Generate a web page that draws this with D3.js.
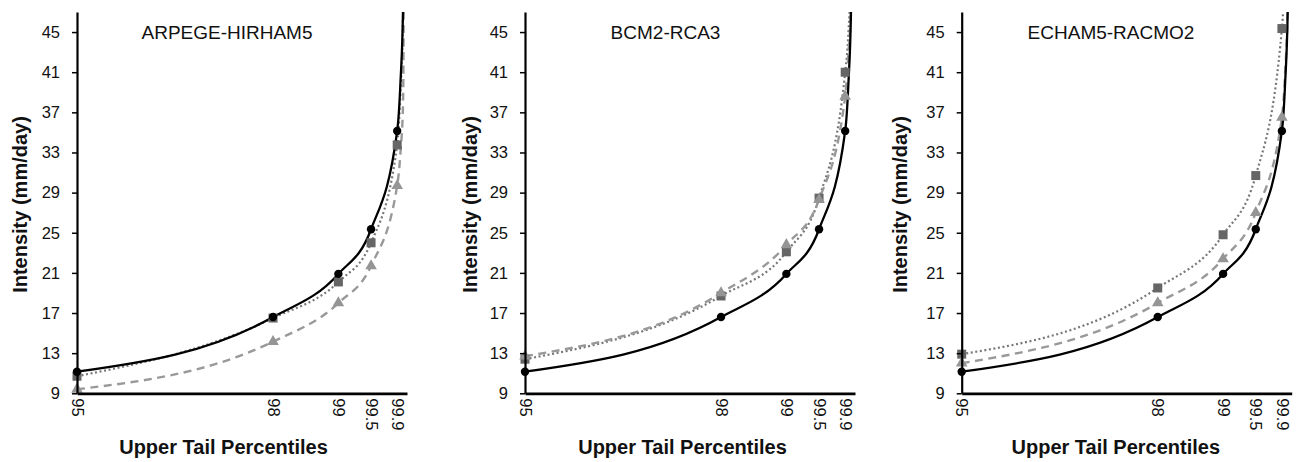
<!DOCTYPE html>
<html><head><meta charset="utf-8">
<script src="https://cdn.jsdelivr.net/npm/d3@7"></script>
<style>
body{margin:0;background:#fff}
svg{display:block}
text{font-family:"Liberation Sans",Arial,Helvetica,sans-serif;fill:#111}
</style>
</head><body>
<svg id="c" width="1296" height="462"></svg>
<script>
// ---------- data ----------
const models = ["ARPEGE-HIRHAM5", "BCM2-RCA3", "ECHAM5-RACMO2"];
const percentiles = [95, 98, 99, 99.5, 99.9];      // marker positions
const tailPercentiles = [99.95, 99.99, 100];       // where the curves shoot up
const xTicks = [95, 98, 99, 99.5, 99.9];
const yTicks = [9, 13, 17, 21, 25, 29, 33, 37, 41, 45];

// observed (black, circles, solid) - same in all panels
const observed     = [11.15, 16.6, 20.9, 25.35, 35.15];
const observedTail = [40, 47.5, 52];

// model series 1 (dark grey squares, dotted)
const squares = [
  [10.7, 16.5, 20.1, 24.0, 33.75],
  [12.4, 18.7, 23.1, 28.45, 41.0],
  [12.9, 19.5, 24.8, 30.7, 45.35]
];
const squaresTail = [
  [39, 47, 52],
  [45, 52, 56],
  [51, 58, 62]
];
// model series 2 (light grey triangles, dashed)
const triangles = [
  [9.4, 14.15, 18.0, 21.7, 29.7],
  [12.7, 19.0, 23.8, 28.3, 38.6],
  [12.0, 18.0, 22.4, 27.0, 36.5]
];
const trianglesTail = [
  [33, 38, 48],
  [43, 48, 52],
  [41, 48, 52]
];

// ---------- layout ----------
const panelLeft = [77, 525, 961.7];
const panelW = 330;
const plotTop = 12, plotBottom = 393.3;
const titleX = [227, 665.5, 1111];
const yTitleX = [26.7, 476.7, 906.7];
const xTitleX = [223.5, 682.5, 1115.8];

const svg = d3.select("#c");

const y = d3.scaleLinear().domain([9, 47]).range([plotBottom, plotTop]);

models.forEach((name, i) => {
  const x0 = panelLeft[i];
  const x = d3.scaleLinear().domain([95, 100.05]).range([x0, x0 + panelW]);
  const g = svg.append("g");

  const clipId = "clip" + i;
  svg.append("clipPath").attr("id", clipId)
    .append("rect").attr("x", x0 - 6).attr("y", plotTop).attr("width", panelW + 12).attr("height", plotBottom - plotTop + 6);

  const mk = (vals, tail) => percentiles.map((p, k) => [p, vals[k]])
      .concat(tailPercentiles.map((p, k) => [p, tail[k]]));

  const line = d3.line().x(d => x(d[0])).y(d => y(d[1])).curve(d3.curveMonotoneX);
  const lines = g.append("g").attr("clip-path", `url(#${clipId})`);

  lines.append("path").attr("d", line(mk(squares[i], squaresTail[i])))
    .attr("fill", "none").attr("stroke", "#777").attr("stroke-width", 2.2)
    .attr("stroke-dasharray", "2,2.6");
  lines.append("path").attr("d", line(mk(triangles[i], trianglesTail[i])))
    .attr("fill", "none").attr("stroke", "#999").attr("stroke-width", 2.4)
    .attr("stroke-dasharray", "8,5.5");
  lines.append("path").attr("d", line(mk(observed, observedTail)))
    .attr("fill", "none").attr("stroke", "#000").attr("stroke-width", 2.3);

  // markers
  g.append("g").selectAll("rect").data(squares[i]).join("rect")
    .attr("x", (d, k) => x(percentiles[k]) - 4.5).attr("y", d => y(d) - 4.5)
    .attr("width", 9).attr("height", 9).attr("fill", "#666");
  const tri = d3.symbol().type(d3.symbolTriangle).size(58);
  g.append("g").selectAll("path").data(triangles[i]).join("path")
    .attr("d", tri).attr("transform", (d, k) => `translate(${x(percentiles[k])},${y(d)})`)
    .attr("fill", "#959595");
  g.append("g").selectAll("circle").data(observed).join("circle")
    .attr("cx", (d, k) => x(percentiles[k])).attr("cy", d => y(d)).attr("r", 4.2)
    .attr("fill", "#000");

  // axes
  const ya = g.append("g").attr("transform", `translate(${x0},0)`)
    .call(d3.axisLeft(y).tickValues(yTicks).tickSize(5).tickSizeOuter(0).tickPadding(12));
  ya.select(".domain").attr("stroke", "#000").attr("stroke-width", 2.2);
  ya.selectAll(".tick line").attr("stroke", "#000").attr("stroke-width", 1.5);
  ya.selectAll("text").attr("font-size", 16.5).attr("fill", "#111");

  const xa = g.append("g").attr("transform", `translate(0,${plotBottom})`)
    .call(d3.axisBottom(x).tickValues(xTicks).tickSize(0).tickSizeOuter(0).tickFormat(d => String(d)));
  xa.select(".domain").attr("stroke", "#000").attr("stroke-width", 2.8);
  xa.selectAll("text").attr("font-size", 16.5).attr("fill", "#111")
    .attr("y", 0).attr("x", 5).attr("dy", "0.35em")
    .attr("transform", "rotate(90)").style("text-anchor", "start");

  // titles
  g.append("text").attr("x", titleX[i]).attr("y", 38.5).attr("text-anchor", "middle")
    .attr("font-size", 19).text(name);
  g.append("text").attr("transform", `translate(${yTitleX[i]},204.5) rotate(-90)`)
    .attr("text-anchor", "middle").attr("font-size", 20).attr("font-weight", "bold")
    .text("Intensity (mm/day)");
  g.append("text").attr("x", xTitleX[i]).attr("y", 454).attr("text-anchor", "middle")
    .attr("font-size", 20).attr("font-weight", "bold").text("Upper Tail Percentiles");
});
</script>
</body></html>
